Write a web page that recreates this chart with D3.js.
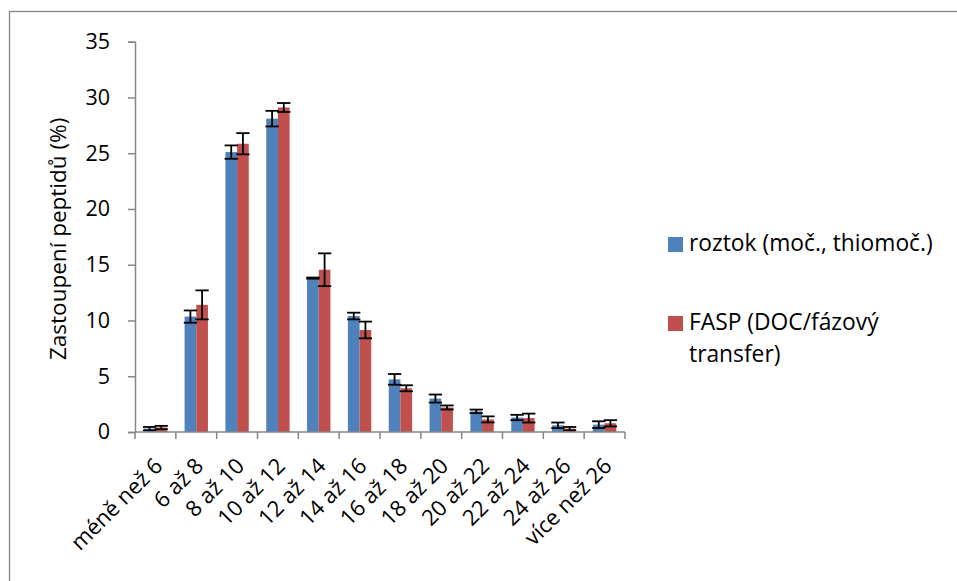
<!DOCTYPE html>
<html><head><meta charset="utf-8">
<script src="https://cdn.jsdelivr.net/npm/d3@7"></script>
<style>body{margin:0;background:#fff;overflow:hidden}svg{display:block}</style>
</head><body>
<script>
const categories = ["méně než 6","6 až 8","8 až 10","10 až 12","12 až 14","14 až 16","16 až 18","18 až 20","20 až 22","22 až 24","24 až 26","více než 26"];
const seriesNames = ["roztok (moč., thiomoč.)","FASP (DOC/fázový transfer)"];
const roztok = [0.3,10.35,25.1,28.1,13.8,10.4,4.72,3.0,1.85,1.3,0.6,0.66];
const roztokErr = [0.15,0.55,0.6,0.7,0.05,0.3,0.48,0.36,0.16,0.24,0.25,0.3];
const fasp = [0.4,11.4,25.85,29.1,14.55,9.15,3.92,2.2,1.13,1.25,0.3,0.78];
const faspErr = [0.15,1.3,0.95,0.4,1.47,0.75,0.27,0.18,0.27,0.4,0.15,0.28];
const yTicks = [0,5,10,15,20,25,30,35];
const colors = ["#4F81BD","#C0504D"];

const W=957,H=581;
const svg=d3.select("body").append("svg").attr("width",W).attr("height",H);
svg.append("rect").attr("x",9.5).attr("y",11.5).attr("width",1000).attr("height",1000)
  .attr("fill","#fff").attr("stroke","#868686").attr("stroke-width",1.3);

const m={l:135,r:625,t:41.7,b:432};
const x=d3.scaleBand().domain(categories).range([m.l,m.r]);
const y=d3.scaleLinear().domain([0,35]).range([m.b,m.t]);
const font="'Open Sans', sans-serif";

// y axis
const ya=svg.append("g").attr("transform",`translate(${m.l},0)`)
  .call(d3.axisLeft(y).tickValues(yTicks).tickSize(7).tickPadding(18));
ya.select(".domain").attr("stroke","#868686").attr("stroke-width",1.5);
ya.selectAll(".tick line").attr("stroke","#868686").attr("stroke-width",1.5);
ya.selectAll("text").attr("font-family",font).attr("font-size",21.5).attr("fill","#000");

const bw=x.bandwidth()*0.286;
const groupOff=(x.bandwidth()-2*bw)/2;
const data=[[roztok,roztokErr],[fasp,faspErr]];
data.forEach(([vals,errs],s)=>{
  const g=svg.append("g");
  g.selectAll("rect").data(categories).join("rect")
    .attr("x",(c)=>x(c)+groupOff+s*bw).attr("width",bw)
    .attr("y",(c,i)=>y(vals[i])).attr("height",(c,i)=>y(0)-y(vals[i]))
    .attr("fill",colors[s]);
});
data.forEach(([vals,errs],s)=>{
  const g=svg.append("g").attr("stroke","#000").attr("stroke-width",1.8);
  categories.forEach((c,i)=>{
    const cx=x(c)+groupOff+s*bw+bw/2;
    const hi=y(vals[i]+errs[i]), lo=y(vals[i]-errs[i]);
    const hw=bw/2+0.8;
    g.append("line").attr("x1",cx).attr("x2",cx).attr("y1",hi).attr("y2",lo);
    g.append("line").attr("x1",cx-hw).attr("x2",cx+hw).attr("y1",hi).attr("y2",hi);
    g.append("line").attr("x1",cx-hw).attr("x2",cx+hw).attr("y1",lo).attr("y2",lo);
  });
});

// x axis
svg.append("line").attr("x1",m.l).attr("x2",m.r).attr("y1",m.b).attr("y2",m.b)
  .attr("stroke","#868686").attr("stroke-width",1.5);
const edges=categories.map(c=>x(c)).concat([m.r]);
svg.append("g").selectAll("line").data(edges).join("line")
  .attr("x1",d=>d).attr("x2",d=>d).attr("y1",m.b).attr("y2",m.b+7)
  .attr("stroke","#868686").attr("stroke-width",1.5);
svg.append("g").selectAll("text").data(categories).join("text")
  .attr("transform",c=>`translate(${x(c)+x.bandwidth()/2+3},${m.b+30}) rotate(-45)`)
  .attr("text-anchor","end").attr("font-family",font).attr("font-size",22)
  .attr("dy","0.35em").text(c=>c);

// y title
svg.append("text").attr("transform",`translate(66,${(m.t+m.b)/2+2}) rotate(-90)`)
  .attr("text-anchor","middle").attr("font-family",font).attr("font-size",22.5)
  .text("Zastoupení peptidů (%)");

// legend
const lg=svg.append("g");
const lx=668, fs=22.8;
lg.append("rect").attr("x",lx).attr("y",237).attr("width",15).attr("height",15).attr("fill",colors[0]);
lg.append("text").attr("x",689).attr("y",251).attr("font-family",font).attr("font-size",fs).text(seriesNames[0]);
lg.append("rect").attr("x",lx).attr("y",316).attr("width",15).attr("height",15).attr("fill",colors[1]);
lg.append("text").attr("x",689).attr("y",330).attr("font-family",font).attr("font-size",fs).text("FASP (DOC/fázový");
lg.append("text").attr("x",689).attr("y",362).attr("font-family",font).attr("font-size",fs).text("transfer)");
</script>
</body></html>
